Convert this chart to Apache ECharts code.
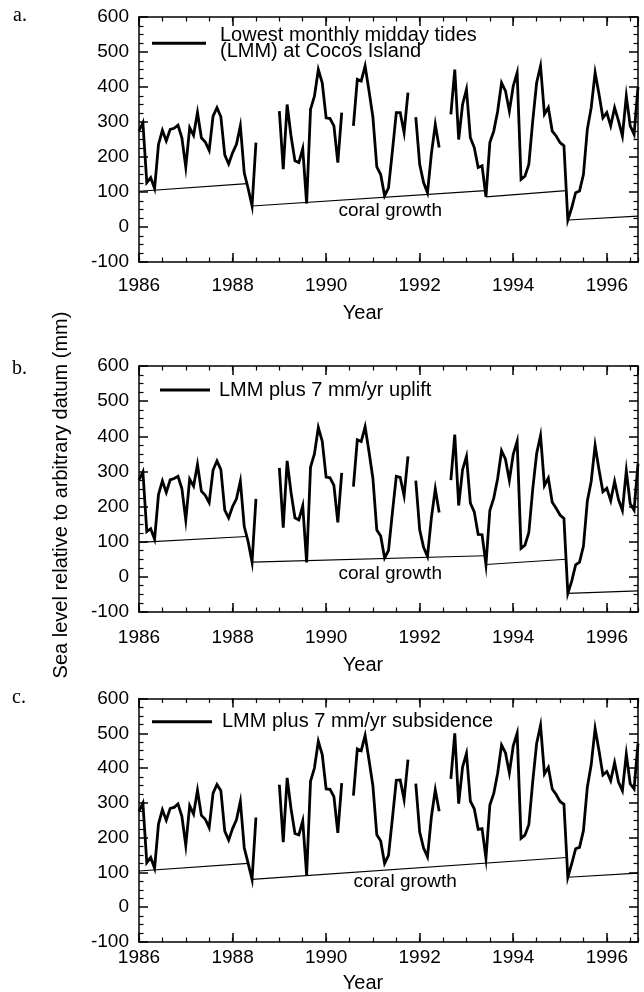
<!DOCTYPE html>
<html><head><meta charset="utf-8">
<script src="https://cdn.jsdelivr.net/npm/echarts@6/dist/echarts.min.js"></script>
<style>html,body{margin:0;padding:0;background:#fff}#c{width:644px;height:992px}</style>
</head><body><div id="c"></div>
<script>
// ---- data (monthly values, first value = Jan 1986) ----
const startYear = 1986;
const endYear = 1996 + 8 / 12;
const xTickInterval = 2;
const yTicks = { min: -100, max: 600, interval: 100 };

const lmm = [
  275,298,127,141,110,236,276,246,279,282,
  291,255,171,284,262,327,255,243,219,317,
  341,315,206,180,212,236,289,155,110,60,
  241,null,null,null,null,null,331,165,350,260,
  189,184,224,67,336,374,450,412,312,310,
  289,184,327,null,null,289,422,417,460,389,
  314,172,150,89,112,217,327,327,270,384,
  null,314,179,127,98,209,293,227,null,null,
  322,450,250,350,393,255,227,170,175,86,
  241,274,331,412,389,331,403,441,136,145,
  179,303,412,460,322,341,274,260,241,232,
  20,55,98,103,150,279,341,441,379,312,
  327,289,341,303,260,374,289,265,400
];
const uplift = [
  276,299,129,137,107,234,273,240,276,280,
  286,251,162,278,258,320,244,232,211,304,
  330,305,190,168,200,222,272,143,100,42,
  222,null,null,null,null,null,310,140,330,240,
  168,162,202,41,312,350,425,386,284,282,
  260,155,296,null,null,257,390,385,427,356,
  280,133,116,54,75,183,286,283,231,343,
  null,274,134,84,58,168,250,183,null,null,
  275,405,203,305,343,210,185,121,120,35,
  189,224,280,359,335,275,349,386,81,90,
  126,250,351,402,260,281,212,195,176,166,
  -47,-12,34,42,87,215,272,374,305,242,
  252,217,272,220,189,302,208,190,322
];
const subsidence = [
  276,299,128,143,112,239,280,250,284,287,
  297,261,178,292,268,336,264,253,229,328,
  353,335,219,193,226,251,304,171,126,80,
  258,null,null,null,null,null,352,187,372,283,
  212,208,248,92,362,400,477,439,340,339,
  318,214,357,null,null,321,455,450,494,423,
  349,208,190,126,149,255,365,366,310,424,
  null,355,216,170,145,260,337,276,null,null,
  369,500,298,403,442,305,283,224,226,141,
  294,327,385,466,444,386,464,500,198,207,
  237,362,471,523,383,402,340,324,304,296,
  86,125,168,172,220,345,410,514,450,380,
  390,364,416,360,335,440,355,340,470
];
// coral growth lines: segments of [year, level]
const coralA = [
  [[1986.0, 102], [1988.31, 124]],
  [[1988.417, 60], [1993.40, 104]],
  [[1993.417, 86], [1995.133, 104]],
  [[1995.167, 20], [1996.667, 31]]
];
const coralB = [
  [[1986.0, 98], [1988.30, 115]],
  [[1988.417, 42], [1993.39, 60]],
  [[1993.417, 35], [1995.13, 50]],
  [[1995.167, -47], [1996.667, -40]]
];
const coralC = [
  [[1986.0, 104], [1988.333, 126]],
  [[1988.417, 80], [1995.14, 143]],
  [[1995.167, 86], [1996.667, 98]]
];
const seriesNames = [
  'Lowest monthly midday tides\n(LMM) at Cocos Island',
  'LMM plus 7 mm/yr uplift',
  'LMM plus 7 mm/yr subsidence'
];
const coralLabel = 'coral growth';
const coralLabelPos = [[1991.37, 47], [1991.37, 9], [1991.69, 73]];

// ---- build ----
const FONT = '"Liberation Sans", Arial, Helvetica, sans-serif';
const SERIF = '"Liberation Serif", "Times New Roman", serif';
const toXY = arr => arr.map((v, i) => [startYear + i / 12, v]);
const segData = segs => segs.flatMap((s, k) => k ? [[s[0][0], null], ...s] : s);

const grids = [
  { left: 139, top: 17, width: 499, height: 245 },
  { left: 139, top: 366, width: 499, height: 246 },
  { left: 139, top: 698.5, width: 499, height: 243.5 }
];
const labelMargins = [14, 16, 6];
const mains = [lmm, uplift, subsidence];
const corals = [coralA, coralB, coralC];

const black = '#000';
const xAxes = [], yAxes = [], series = [];
grids.forEach((g, i) => {
  g.containLabel = false;
  const base = { gridIndex: i, type: 'value', min: startYear, max: endYear, splitLine: { show: false } };
  xAxes.push(Object.assign({}, base, {
    position: 'bottom', interval: xTickInterval,
    axisLine: { show: true, onZero: false, lineStyle: { color: black, width: 1.5 } },
    axisTick: { show: true, inside: true, length: 9, lineStyle: { color: black, width: 1.5 } },
    axisLabel: { show: true, margin: labelMargins[i], color: black, fontSize: 19, fontFamily: FONT,
      showMaxLabel: false, formatter: v => String(Math.round(v)) }
  }));
  xAxes.push(Object.assign({}, base, {
    position: 'bottom', interval: 0.5,
    axisLine: { show: false, onZero: false },
    axisTick: { show: true, inside: true, length: 4.5, lineStyle: { color: black, width: 1.2 } },
    axisLabel: { show: false }
  }));
  xAxes.push(Object.assign({}, base, {
    position: 'top', interval: xTickInterval,
    axisLine: { show: true, onZero: false, lineStyle: { color: black, width: 1.5 } },
    axisTick: { show: true, inside: true, length: 9, lineStyle: { color: black, width: 1.5 } },
    axisLabel: { show: false }
  }));
  xAxes.push(Object.assign({}, base, {
    position: 'top', interval: 0.5,
    axisLine: { show: false, onZero: false },
    axisTick: { show: true, inside: true, length: 4.5, lineStyle: { color: black, width: 1.2 } },
    axisLabel: { show: false }
  }));
  const ybase = {
    gridIndex: i, type: 'value', min: yTicks.min, max: yTicks.max, interval: yTicks.interval,
    splitLine: { show: false }, minorSplitLine: { show: false },
    axisLine: { show: true, onZero: false, lineStyle: { color: black, width: 1.5 } },
    axisTick: { show: true, inside: true, length: 9, lineStyle: { color: black, width: 1.5 } },
    minorTick: { show: true, splitNumber: 4, length: 4.5, lineStyle: { color: black, width: 1.2 } }
  };
  yAxes.push(Object.assign({}, ybase, {
    position: 'left',
    axisLabel: { show: true, margin: 10, color: black, fontSize: 19, fontFamily: FONT }
  }));
  yAxes.push(Object.assign({}, ybase, { position: 'right', axisLabel: { show: false } }));

  series.push({
    type: 'line', name: seriesNames[i], xAxisIndex: 4 * i, yAxisIndex: 2 * i,
    data: toXY(mains[i]), symbol: 'none', showSymbol: false, connectNulls: false,
    lineStyle: { color: black, width: 2.8, join: 'miter' }, itemStyle: { color: black },
    z: 3, animation: false
  });
  series.push({
    type: 'line', name: 'coral' + i, xAxisIndex: 4 * i, yAxisIndex: 2 * i,
    data: segData(corals[i]), symbol: 'none', showSymbol: false, connectNulls: false,
    lineStyle: { color: black, width: 1.1 }, itemStyle: { color: black },
    z: 2, animation: false,
    markPoint: {
      symbol: 'rect', symbolSize: 1, silent: true, animation: false,
      itemStyle: { color: 'rgba(0,0,0,0)' },
      label: { show: true, position: 'inside', formatter: coralLabel, color: black, fontSize: 19, fontFamily: FONT },
      data: [{ coord: coralLabelPos[i] }]
    }
  });
});

const legendBase = {
  orient: 'horizontal', padding: 0, itemHeight: 3, icon: 'rect',
  selectedMode: false,
  formatter: '{t|{name}}'
};
const legends = [
  Object.assign({}, legendBase, { left: 152, top: 25.2, itemWidth: 54, data: [seriesNames[0]],
    textStyle: { rich: { t: { fontSize: 20, fontFamily: FONT, color: black, lineHeight: 16, padding: [0, 0, 0, 9] } } } }),
  Object.assign({}, legendBase, { left: 160, top: 380, itemWidth: 50, data: [seriesNames[1]],
    textStyle: { rich: { t: { fontSize: 20, fontFamily: FONT, color: black, lineHeight: 20, padding: [0, 0, 0, 4] } } } }),
  Object.assign({}, legendBase, { left: 152, top: 711.7, itemWidth: 60, data: [seriesNames[2]],
    textStyle: { rich: { t: { fontSize: 20, fontFamily: FONT, color: black, lineHeight: 20, padding: [0, 0, 0, 5] } } } })
];

const txt = (x, y, text, font) => ({
  type: 'text', x: x, y: y, silent: true,
  style: { text: text, font: font, fill: black, align: 'left', verticalAlign: 'middle' }
});
const ctxt = (x, y, text, rot) => ({
  type: 'text', x: x, y: y, rotation: rot || 0, silent: true,
  style: { text: text, font: '20px ' + FONT, fill: black, align: 'center', verticalAlign: 'middle' }
});

const graphic = [
  txt(13, 16, 'a.', '20px ' + SERIF),
  txt(12, 369, 'b.', '20px ' + SERIF),
  txt(12, 698, 'c.', '20px ' + SERIF),
  ctxt(363, 313, 'Year'),
  ctxt(363, 665, 'Year'),
  ctxt(363, 983, 'Year'),
  ctxt(61, 495, 'Sea level relative to arbitrary datum (mm)', Math.PI / 2)
];

const chart = echarts.init(document.getElementById('c'), null, { renderer: 'canvas', width: 644, height: 992 });
chart.setOption({
  backgroundColor: '#fff',
  animation: false,
  grid: grids,
  xAxis: xAxes,
  yAxis: yAxes,
  legend: legends,
  series: series,
  graphic: graphic
});
</script>
</body></html>
